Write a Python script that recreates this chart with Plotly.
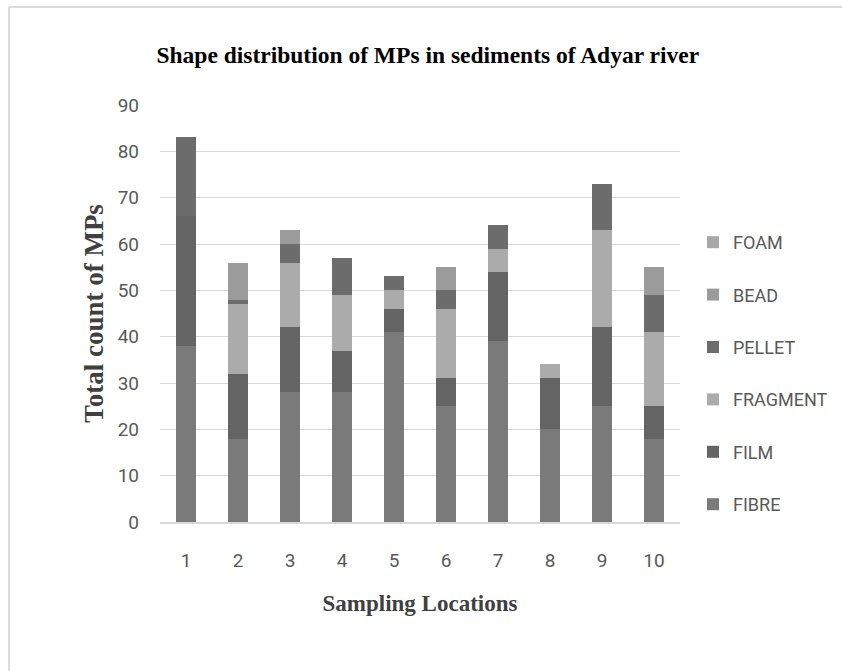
import plotly.graph_objects as go

locations = ["1", "2", "3", "4", "5", "6", "7", "8", "9", "10"]
fibre    = [38, 18, 28, 28, 41, 25, 39, 20, 25, 18]
film     = [28, 14, 14,  9,  5,  6, 15, 11, 17,  7]
fragment = [ 0, 15, 14, 12,  4, 15,  5,  3, 21, 16]
pellet   = [17,  1,  4,  8,  3,  4,  5,  0, 10,  8]
bead     = [ 0,  8,  3,  0,  0,  5,  0,  0,  0,  6]
foam     = [ 0,  0,  0,  0,  0,  0,  0,  0,  0,  0]

series = [
    ("FIBRE", fibre, "#7a7a7a"),
    ("FILM", film, "#646464"),
    ("FRAGMENT", fragment, "#ababab"),
    ("PELLET", pellet, "#6c6c6c"),
    ("BEAD", bead, "#9b9b9b"),
    ("FOAM", foam, "#a8a8a8"),
]

fig = go.Figure()
n = len(series)
for i, (name, vals, col) in enumerate(series):
    fig.add_trace(go.Bar(
        x=locations, y=vals, name=name, legendgroup=name,
        legendrank=n - i,
        marker=dict(color=col, line=dict(width=0)),
    ))

L, R, T, B = 160, 162, 105, 149
W, H = 842, 671
pw, ph = W - L - R, H - T - B

def px(xp):
    return (xp - L) / pw

def py(yp):
    return 1 - (yp - T) / ph

fig.update_layout(
    width=W, height=H,
    margin=dict(l=L, r=R, t=T, b=B, autoexpand=False),
    paper_bgcolor="white", plot_bgcolor="white",
    barmode="stack", bargap=0.6,
    title=dict(
        text="<b>Shape distribution of MPs in sediments of Adyar river</b>",
        font=dict(family="Liberation Serif", size=23.5, color="#000000"),
        x=0.515, xanchor="center", xref="paper",
        y=1 - 55 / H, yanchor="middle", yref="container",
    ),
    xaxis=dict(
        type="category",
        tickfont=dict(family="Liberation Sans Narrow, Roboto", size=19, color="#595959"),
        showgrid=False, showline=True, linecolor="#d9d9d9", linewidth=1.5,
        ticks="", ticklabelstandoff=20,
        title=dict(text="<b>Sampling Locations</b>",
                   font=dict(family="Liberation Serif", size=23, color="#404040"),
                   standoff=24),
    ),
    yaxis=dict(
        range=[0, 90], dtick=10,
        tickfont=dict(family="Liberation Sans Narrow, Roboto", size=19, color="#595959"),
        showgrid=True, gridcolor="#d9d9d9", gridwidth=1,
        zeroline=False, showline=False, ticks="", ticklabelstandoff=20,
        title=dict(text="<b>Total count of MPs</b>",
                   font=dict(family="Liberation Serif", size=27, color="#404040"),
                   standoff=6),
    ),
    legend=dict(
        traceorder="grouped", tracegroupgap=26,
        font=dict(family="Liberation Sans Narrow, Roboto", size=18, color="#595959"),
        x=px(693), xanchor="left", y=py(224), yanchor="top",
        bgcolor="rgba(0,0,0,0)",
    ),
    shapes=[
        dict(type="line", xref="paper", yref="paper",
             x0=px(9), x1=px(842), y0=py(7), y1=py(7),
             line=dict(color="#dcdcdc", width=2)),
        dict(type="line", xref="paper", yref="paper",
             x0=px(9), x1=px(9), y0=py(7), y1=py(671),
             line=dict(color="#dcdcdc", width=2)),
    ],
)

fig.write_html("out.html")
